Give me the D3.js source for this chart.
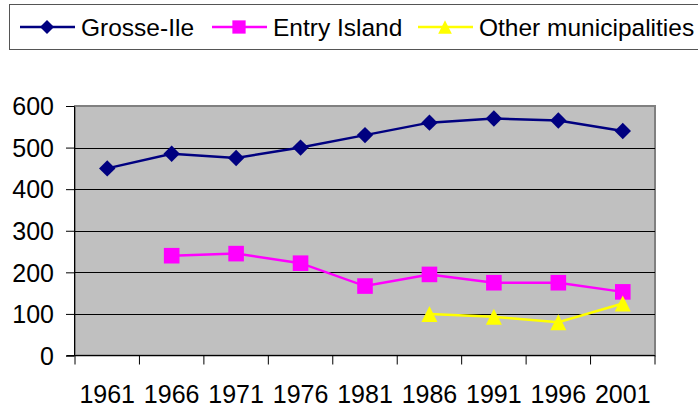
<!DOCTYPE html>
<html>
<head>
<meta charset="utf-8">
<script src="https://cdn.jsdelivr.net/npm/d3@7"></script>
<style>
  body { margin: 0; background: #fff; }
  svg { display: block; font-family: "Liberation Sans", Arial, sans-serif; }
</style>
</head>
<body>
<div id="chart"></div>
<script>
var years = ["1961", "1966", "1971", "1976", "1981", "1986", "1991", "1996", "2001"];
var grosseIle = [450, 485, 475, 500, 530, 560, 570, 565, 540];
var entryIsland = [null, 240, 245, 222, 167, 195, 175, 175, 153];
var otherMunicipalities = [null, null, null, null, null, 100, 93, 80, 125];
var yTicks = [0, 100, 200, 300, 400, 500, 600];

// marker shapes drawn as small paths, r = half width
function diamond(r){ return "M0," + (-r) + "L" + r + ",0L0," + r + "L" + (-r) + ",0Z"; }
function square(r){ return "M" + (-r) + "," + (-r) + "H" + r + "V" + r + "H" + (-r) + "Z"; }
function triangle(r){ return "M0," + (-r) + "L" + r + "," + r + "L" + (-r) + "," + r + "Z"; }

var series = [
  { name: "Grosse-Ile", values: grosseIle, color: "#000080", shape: diamond, r: 8.2 },
  { name: "Entry Island", values: entryIsland, color: "#ff00ff", shape: square, r: 7.8 },
  { name: "Other municipalities", values: otherMunicipalities, color: "#ffff00", shape: triangle, r: 8 }
];

var width = 698,
    height = 408,
    plotL = 75, plotR = 655, plotT = 106, plotB = 355.5;

var svg = d3.select("#chart").append("svg")
    .attr("width", width)
    .attr("height", height);

var x = d3.scaleBand().domain(years).range([plotL, plotR]);
var y = d3.scaleLinear().domain([0, 600]).range([plotB, plotT]);

// plot area
svg.append("rect")
    .attr("x", plotL).attr("y", plotT)
    .attr("width", plotR - plotL).attr("height", plotB - plotT)
    .attr("fill", "#c0c0c0")
    .attr("stroke", "#808080")
    .attr("stroke-width", 2);

// gridlines
svg.append("g").selectAll("line")
    .data(yTicks.filter(function(d){ return d > 0 && d < 600; }))
    .enter().append("line")
    .attr("x1", plotL).attr("x2", plotR)
    .attr("y1", function(d){ return Math.round(y(d)) + 0.5; })
    .attr("y2", function(d){ return Math.round(y(d)) + 0.5; })
    .attr("stroke", "#000")
    .attr("stroke-width", 1);

// y axis
var yAxis = svg.append("g")
    .attr("transform", "translate(" + (plotL - 1) + ",0)")
    .call(d3.axisLeft(y).tickValues(yTicks).tickSize(8).tickPadding(12));
yAxis.selectAll("text").style("font-size", "25px").attr("fill", "#000").attr("dy", "0.35em");
yAxis.selectAll("line,path").attr("stroke", "#000");

// x axis: ticks at category boundaries
var xAxis = svg.append("g")
    .attr("transform", "translate(0," + plotB + ")");
xAxis.append("line")
    .attr("x1", plotL - 8).attr("x2", plotR)
    .attr("y1", 0).attr("y2", 0)
    .attr("stroke", "#000");
xAxis.selectAll(".tk")
    .data(years.concat(["end"]))
    .enter().append("line")
    .attr("class", "tk")
    .attr("x1", function(d, i){ return plotL + i * x.bandwidth(); })
    .attr("x2", function(d, i){ return plotL + i * x.bandwidth(); })
    .attr("y1", 0).attr("y2", 9)
    .attr("stroke", "#000");
xAxis.selectAll("text")
    .data(years)
    .enter().append("text")
    .attr("x", function(d){ return x(d) + x.bandwidth() / 2; })
    .attr("y", 47.5)
    .attr("text-anchor", "middle")
    .style("font-size", "25px")
    .attr("fill", "#000")
    .text(function(d){ return d; });

// lines and markers
var line = d3.line()
    .defined(function(d){ return d != null; })
    .x(function(d, i){ return x(years[i]) + x.bandwidth() / 2; })
    .y(function(d){ return y(d); });

series.forEach(function(s){
  svg.append("path")
      .datum(s.values)
      .attr("d", line)
      .attr("fill", "none")
      .attr("stroke", s.color)
      .attr("stroke-width", 2.5);

  svg.append("g").selectAll("path")
      .data(s.values.map(function(v, i){ return { v: v, year: years[i] }; })
        .filter(function(d){ return d.v != null; }))
      .enter().append("path")
      .attr("d", s.shape(s.r))
      .attr("transform", function(d){
        return "translate(" + (x(d.year) + x.bandwidth() / 2) + "," + y(d.v) + ")";
      })
      .attr("fill", s.color);
});

// legend
var legend = svg.append("g");
legend.append("rect")
    .attr("x", 9.5).attr("y", 4.5)
    .attr("width", 700).attr("height", 45)
    .attr("fill", "#fff")
    .attr("stroke", "#555")
    .attr("stroke-width", 1);

var legendX = [20, 212, 418];
series.forEach(function(s, i){
  var g = legend.append("g").attr("transform", "translate(" + legendX[i] + ",27)");
  g.append("line")
      .attr("x1", 0).attr("x2", 55)
      .attr("stroke", s.color)
      .attr("stroke-width", 2.5);
  g.append("path")
      .attr("d", s.shape(s.r * 0.85))
      .attr("transform", "translate(27,0)")
      .attr("fill", s.color);
  g.append("text")
      .attr("x", 61)
      .attr("y", 9)
      .style("font-size", "24.5px")
      .attr("fill", "#000")
      .text(s.name);
});
</script>
</body>
</html>
